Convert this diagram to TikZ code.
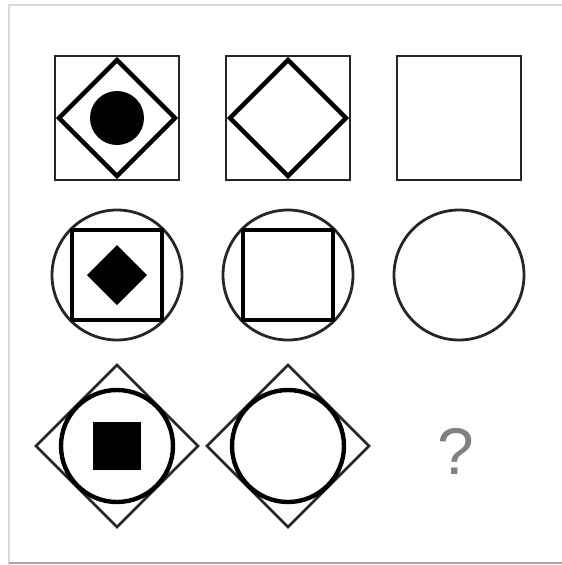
\documentclass[tikz,border=0pt]{standalone}
\usepackage{fontspec}
\newfontfamily\qmarkfont{Liberation Sans}
\usepackage{tikz}

\begin{document}
\begin{tikzpicture}[x=1pt,y=-1pt,
    thinline/.style={line width=2.8pt, draw=black!85},
    thickline/.style={line width=4.4pt, draw=black},
    frameline/.style={line width=2.5pt}]
\useasboundingbox (0,0) rectangle (562,565);
%% frame
\draw[frameline, black!15] (9,565) -- (9,5) -- (562,5);
\draw[frameline, black!35] (9,563) -- (562,563);
%%%%%%%%%%%%%%%%%%%%%%%%%%%%%%%%%%%%%
%% row 1
\begin{scope}[shift={(117,118)}]
    \draw[thinline] (-62,-62) rectangle (62,62);
    \draw[thickline] (0,-58) -- (58,0) -- (0,58) -- (-58,0) -- cycle;
    \fill (0,0) circle (27);
\end{scope}
\begin{scope}[shift={(288,118)}]
    \draw[thinline] (-62,-62) rectangle (62,62);
    \draw[thickline] (0,-58) -- (58,0) -- (0,58) -- (-58,0) -- cycle;
\end{scope}
\begin{scope}[shift={(459,118)}]
    \draw[thinline] (-62,-62) rectangle (62,62);
\end{scope}
%%%%%%%%%%%%%%%%%%%%%%%%%%%%%%%%%%%%%
%% row 2
\begin{scope}[shift={(117,275)}]
    \draw[thinline] (0,0) circle (65);
    \draw[thickline] (-45,-45) rectangle (45,45);
    \fill (0,-30) -- (30,0) -- (0,30) -- (-30,0) -- cycle;
\end{scope}
\begin{scope}[shift={(288,275)}]
    \draw[thinline] (0,0) circle (65);
    \draw[thickline] (-45,-45) rectangle (45,45);
\end{scope}
\begin{scope}[shift={(459,275)}]
    \draw[thinline] (0,0) circle (65);
\end{scope}
%%%%%%%%%%%%%%%%%%%%%%%%%%%%%%%%%%%%%
%% row 3
\begin{scope}[shift={(117,446)}]
    \draw[thinline] (0,-81) -- (81,0) -- (0,81) -- (-81,0) -- cycle;
    \draw[thickline] (0,0) circle (56);
    \fill (-24,-24) rectangle (24,24);
\end{scope}
\begin{scope}[shift={(288,446)}]
    \draw[thinline] (0,-81) -- (81,0) -- (0,81) -- (-81,0) -- cycle;
    \draw[thickline] (0,0) circle (56);
\end{scope}
\node[text=black!50, inner sep=0pt] (question) at (456,451)
    {\qmarkfont\fontsize{66}{66}\selectfont ?};
\end{tikzpicture}
\end{document}
